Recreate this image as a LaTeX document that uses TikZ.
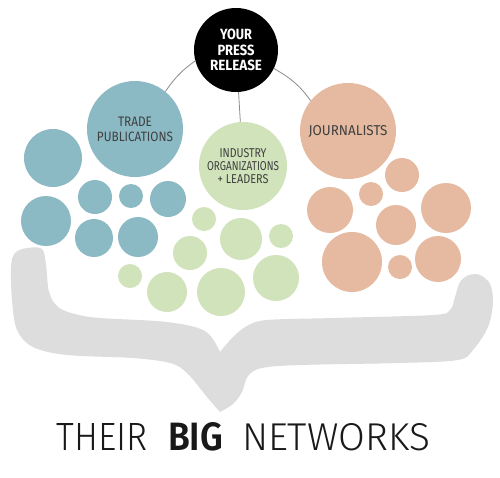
\documentclass[tikz,border=0pt]{standalone}
\usepackage{graphicx}
\usepackage{fontspec}
\setmainfont{Fira Sans}
\newfontfamily\titlefont{Fira Sans Light}
\newcommand{\fitcaps}[3]{\resizebox{#1pt}{#2pt}{#3}}
\definecolor{tradeblue}{RGB}{139,185,196}
\definecolor{leadgreen}{RGB}{208,227,186}
\definecolor{journopeach}{RGB}{229,186,160}
\definecolor{bracegray}{RGB}{221,221,221}
\definecolor{labelgray}{RGB}{64,64,64}
\definecolor{linkgray}{RGB}{140,140,140}

\begin{document}
\begin{tikzpicture}[
  x=1pt, y=-1pt,
  hub/.style={circle, fill=black, text=white, minimum size=84pt, inner sep=0pt,
              font=\bfseries\fontsize{15}{15.5}\selectfont, align=center},
  group/.style={circle, minimum size=96pt, inner sep=0pt, text=labelgray,
                font=\fontsize{13}{15}\selectfont, align=center},
  link/.style={draw=linkgray, line width=0.8pt},
]
\fill[white] (0,0) rectangle (500,477);
\useasboundingbox (0,0) rectangle (500,477);

% Brace
\fill[bracegray] plot[smooth, tension=0.55] coordinates {(220,412) (207,397) (187,373) (170,363) (133,358) (67,355) (33,347) (17,330) (12,300) (11,267) (15,253) (27,248) (42,249) (46,265) (49,292) (58,307) (75,314) (100,318) (167,322) (205,331) (220,352)}
  -- plot[smooth, tension=0.55] coordinates {(220,352) (233,337) (247,326) (267,320) (333,318) (433,315) (450,310) (455,297) (460,282) (469,275) (480,275) (490,284) (493,302) (488,327) (473,350) (458,360) (400,363) (300,365) (262,368) (248,376) (242,392) (233,404) (220,412)}
  -- cycle;

% Trade publications
\foreach \x/\y/\r in {53/158/29, 46/221/25, 95/197/17, 131/196/12, 168/199/18, 94/238/19, 138/237/20}
  \fill[tradeblue] (\x,\y) circle[radius=\r];

% Industry organizations
\foreach \x/\y/\r in {204/219/12, 241/239/21, 281/236/12, 190/253/17, 130/276/12, 167/292/20, 221/292/24, 276/278/23}
  \fill[leadgreen] (\x,\y) circle[radius=\r];

% Journalists
\foreach \x/\y/\r in {402/175/17, 371/194/12, 330/210/23, 446/208/25, 396/225/20, 352/262/30, 400/267/12, 438/259/23}
  \fill[journopeach] (\x,\y) circle[radius=\r];

% Main circles
\node[hub] (press) at (236,50) {\fitcaps{32}{10.5}{YOUR}\\\fitcaps{37}{10.5}{PRESS}\\\fitcaps{52}{10.5}{RELEASE}};
\node[group, fill=tradeblue] (trade) at (135,129) {\fitcaps{34}{9.5}{TRADE}\\\fitcaps{76}{9.5}{PUBLICATIONS}};
\node[group, fill=leadgreen, minimum size=88pt, font=\fontsize{11}{13}\selectfont] (industry) at (243,166) {\fitcaps{47}{9}{INDUSTRY}\\\fitcaps{72}{9}{ORGANIZATIONS}\\\fitcaps{51}{9}{+ LEADERS}};
\node[group, fill=journopeach] (journo) at (348,131) {\fitcaps{79}{10}{JOURNALISTS}};

\draw[link] (press.195) to[out=215, in=55] (trade.51);
\draw[link] (press) -- (industry);
\draw[link] (press.334) to[out=-30, in=125] (journo.141);

% Title
\node[font=\titlefont\fontsize{39}{39}\selectfont, text=black!90, inner sep=0pt, anchor=base] (title) at (243.5,450) {\fitcaps{91}{27}{THEIR}\hspace{20pt}\fitcaps{55}{28}{\bfseries BIG}\hspace{19pt}\fitcaps{188}{27}{NETWORKS}};

\end{tikzpicture}
\end{document}
